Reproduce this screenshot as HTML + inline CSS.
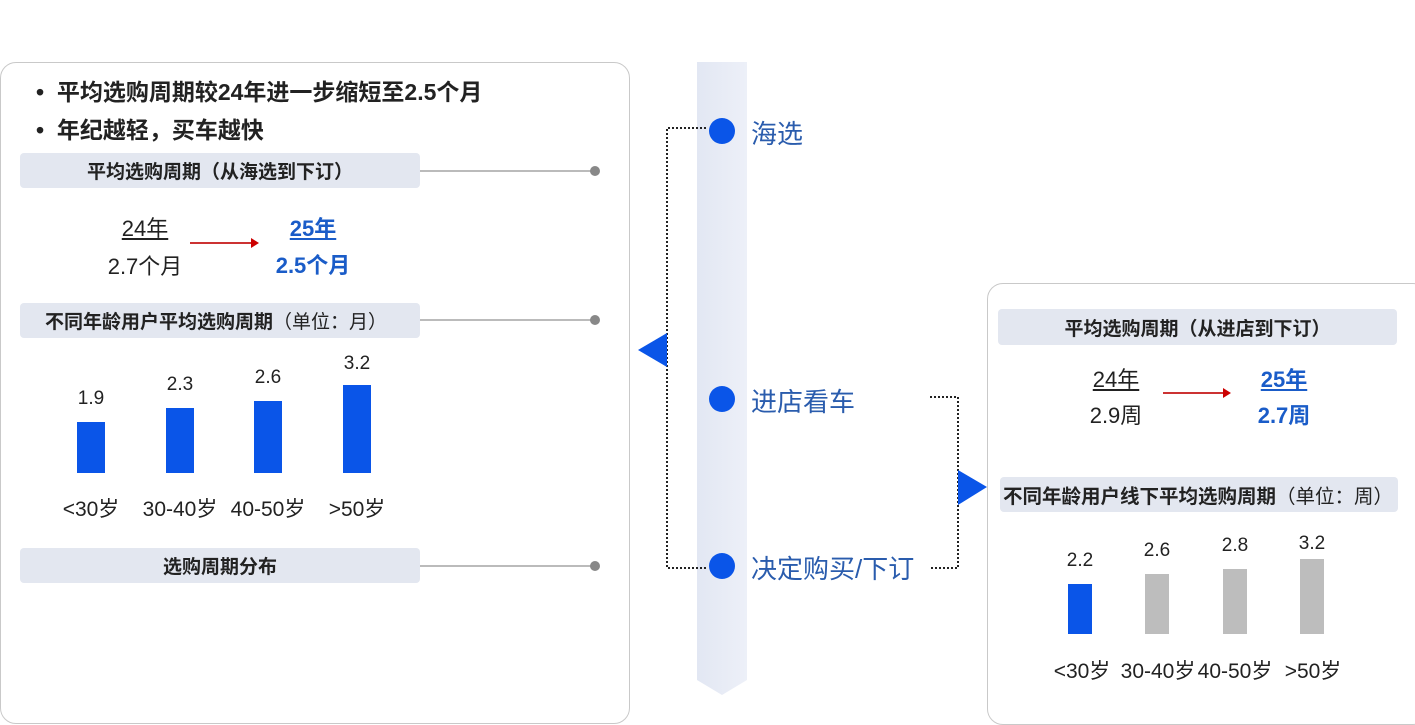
<!DOCTYPE html>
<html><head><meta charset="utf-8"><style>
body{margin:0;width:1415px;height:707px;background:#fff;position:relative;overflow:hidden;font-family:"Liberation Sans","Noto Sans CJK SC",sans-serif;color:#222}
.a{position:absolute}
.panel{position:absolute;border:1.5px solid #c9c9c9;border-radius:16px;background:#fff}
.hdr{position:absolute;background:#e3e7f0;border-radius:4px;font-weight:bold;font-size:19px;display:flex;align-items:center;white-space:nowrap}
.c{text-align:center;transform:translateX(-50%);white-space:nowrap}
.bar{position:absolute;background:#0a55e8}
.g{background:#bdbdbd}
.lab{position:absolute;font-size:19px;transform:translateX(-50%);white-space:nowrap}
.xl{font-size:21px}
.blue{color:#1a5cc8;font-weight:bold}
.dot{position:absolute;width:26px;height:26px;border-radius:50%;background:#0a55e8}
.st{position:absolute;font-size:26px;color:#2a5cad;white-space:nowrap}
</style></head><body>
<div class="panel" style="left:0;top:62px;width:628px;height:660px"></div>
<div class="a" style="left:36px;top:73px;font-size:23px;font-weight:bold">•&nbsp;&nbsp;平均选购周期较24年进一步缩短至2.5个月</div>
<div class="a" style="left:36px;top:111px;font-size:23px;font-weight:bold">•&nbsp;&nbsp;年纪越轻，买车越快</div>

<div class="hdr" style="left:20px;top:153px;width:400px;height:35px;justify-content:center">平均选购周期（从海选到下订）</div>
<div class="a" style="left:420px;top:170px;width:175px;height:1.5px;background:#bbb"></div>
<div class="a" style="left:590px;top:166px;width:10px;height:10px;border-radius:50%;background:#888"></div>
<div class="a c" style="left:145px;top:211px;font-size:22px;text-decoration:underline">24年</div>
<div class="a c" style="left:145px;top:249px;font-size:22px">2.7个月</div>
<div class="a" style="left:190px;top:242px;width:62px;height:1.5px;background:#c33"></div>
<div class="a" style="left:251px;top:238px;border-left:8px solid #c00;border-top:5px solid transparent;border-bottom:5px solid transparent"></div>
<div class="a c blue" style="left:313px;top:211px;font-size:22px;text-decoration:underline">25年</div>
<div class="a c blue" style="left:313px;top:248px;font-size:22px">2.5个月</div>

<div class="hdr" style="left:20px;top:303px;width:400px;height:35px;padding-left:25px;box-sizing:border-box">不同年龄用户平均选购周期<span style="font-weight:normal">（单位：月）</span></div>
<div class="a" style="left:420px;top:319px;width:175px;height:1.5px;background:#bbb"></div>
<div class="a" style="left:590px;top:315px;width:10px;height:10px;border-radius:50%;background:#888"></div>
<div class="bar" style="left:77px;top:422px;width:28px;height:51px"></div>
<div class="bar" style="left:166px;top:408px;width:28px;height:65px"></div>
<div class="bar" style="left:254px;top:401px;width:28px;height:72px"></div>
<div class="bar" style="left:343px;top:385px;width:28px;height:88px"></div>
<div class="lab" style="left:91px;top:388px">1.9</div>
<div class="lab" style="left:180px;top:374px">2.3</div>
<div class="lab" style="left:268px;top:367px">2.6</div>
<div class="lab" style="left:357px;top:353px">3.2</div>
<div class="lab xl" style="left:91px;top:493px">&lt;30岁</div>
<div class="lab xl" style="left:180px;top:493px">30-40岁</div>
<div class="lab xl" style="left:268px;top:493px">40-50岁</div>
<div class="lab xl" style="left:357px;top:493px">&gt;50岁</div>

<div class="hdr" style="left:20px;top:548px;width:400px;height:35px;justify-content:center">选购周期分布</div>
<div class="a" style="left:420px;top:565px;width:175px;height:1.5px;background:#bbb"></div>
<div class="a" style="left:590px;top:561px;width:10px;height:10px;border-radius:50%;background:#888"></div>

<svg class="a" style="left:0;top:0" width="1415" height="707">
<defs><linearGradient id="vg" x1="0" x2="1"><stop offset="0" stop-color="#e2e7f3"/><stop offset="1" stop-color="#edf0f8"/></linearGradient></defs>
<polygon points="697,62 747,62 747,680 722,695 697,680" fill="url(#vg)"/>
<g fill="none" stroke="#222" stroke-width="2" stroke-dasharray="2,2">
<polyline points="706,128 667,128 667,568 708,568"/>
<polyline points="930,397 958,397 958,568 930,568"/>
</g>
<polygon points="638,350 667,333 667,367" fill="#0a55e8"/>
<polygon points="987,487 958,470 958,505" fill="#0a55e8"/>
</svg>
<div class="dot" style="left:709px;top:118px"></div>
<div class="dot" style="left:709px;top:386px"></div>
<div class="dot" style="left:709px;top:553px"></div>
<div class="st" style="left:751px;top:114px">海选</div>
<div class="st" style="left:751px;top:382px">进店看车</div>
<div class="st" style="left:751px;top:549px">决定购买/下订</div>

<div class="panel" style="left:987px;top:283px;width:440px;height:440px"></div>
<div class="hdr" style="left:998px;top:309px;width:399px;height:36px;justify-content:center">平均选购周期（从进店到下订）</div>
<div class="a c" style="left:1116px;top:362px;font-size:22px;text-decoration:underline">24年</div>
<div class="a c" style="left:1116px;top:398px;font-size:22px">2.9周</div>
<div class="a" style="left:1163px;top:392px;width:62px;height:1.5px;background:#c33"></div>
<div class="a" style="left:1223px;top:388px;border-left:8px solid #c00;border-top:5px solid transparent;border-bottom:5px solid transparent"></div>
<div class="a c blue" style="left:1284px;top:362px;font-size:22px;text-decoration:underline">25年</div>
<div class="a c blue" style="left:1284px;top:398px;font-size:22px">2.7周</div>
<div class="hdr" style="left:1000px;top:477px;width:398px;height:35px;padding-left:3px;box-sizing:border-box;font-size:19.5px">不同年龄用户线下平均选购周期<span style="font-weight:normal">（单位：周）</span></div>
<div class="bar" style="left:1068px;top:584px;width:24px;height:50px"></div>
<div class="bar g" style="left:1145px;top:574px;width:24px;height:60px"></div>
<div class="bar g" style="left:1223px;top:569px;width:24px;height:65px"></div>
<div class="bar g" style="left:1300px;top:559px;width:24px;height:75px"></div>
<div class="lab" style="left:1080px;top:550px">2.2</div>
<div class="lab" style="left:1157px;top:540px">2.6</div>
<div class="lab" style="left:1235px;top:535px">2.8</div>
<div class="lab" style="left:1312px;top:533px">3.2</div>
<div class="lab xl" style="left:1082px;top:655px">&lt;30岁</div>
<div class="lab xl" style="left:1158px;top:655px">30-40岁</div>
<div class="lab xl" style="left:1235px;top:655px">40-50岁</div>
<div class="lab xl" style="left:1313px;top:655px">&gt;50岁</div>
</body></html>
